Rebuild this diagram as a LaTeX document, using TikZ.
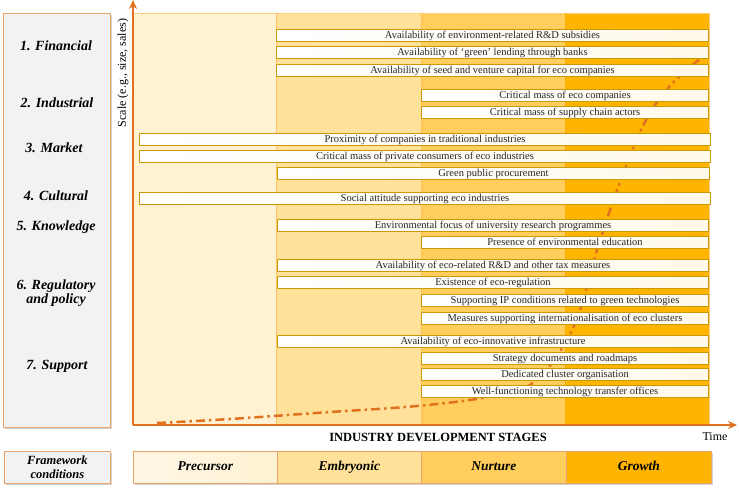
\documentclass[tikz,border=0pt]{standalone}
\usepackage{fontspec}
\setmainfont{Liberation Serif}
\usepackage{tikz}
\usetikzlibrary{arrows.meta,positioning,calc,shadows}
\definecolor{axisorange}{HTML}{E0711E}
\definecolor{precursor}{HTML}{FFF2D3}
\definecolor{embryonic}{HTML}{FFE19A}
\definecolor{nurture}{HTML}{FFCE5C}
\definecolor{growth}{HTML}{FFB400}
\definecolor{bargold}{HTML}{C99A06}
\definecolor{barfill}{HTML}{FFF9EA}
\definecolor{panelgray}{HTML}{F2F2F2}
\definecolor{panelline}{HTML}{E8A565}
\newcommand{\barfont}{\fontsize{10.5}{11}\selectfont}
\newcommand{\catfont}{\fontsize{14}{14}\selectfont\bfseries\itshape}

\begin{document}
\begin{tikzpicture}[x=1pt,y=-1pt,font=\small,
  ecobar/.style={draw=bargold, line width=1pt, left color=white, right color=barfill,
    anchor=north west, inner sep=0pt, minimum height=12pt, text height=7.2pt, text depth=2.2pt,
    text=black!85, font=\barfont},
  catlabel/.style={font=\catfont, align=center},
  stagebox/.style={draw=panelline, line width=0.8pt, drop shadow={opacity=0.35,shadow xshift=1.5pt,shadow yshift=-1.5pt},
    anchor=north west, minimum height=32pt, inner sep=0pt, text height=9.5pt, text depth=3pt,
    font=\fontsize{13.5}{14}\selectfont\bfseries\itshape}]
\useasboundingbox (0,0) rectangle (739,490);

% left panel with the seven categories
\node[draw=panelline, fill=panelgray, line width=0.8pt, drop shadow={opacity=0.35,shadow xshift=1.5pt,shadow yshift=-1.5pt},
  anchor=north west, minimum width=107pt, minimum height=414pt, inner sep=0pt] (panel) at (3,13) {};
\node[catlabel] (fin) at (56,46) {1. Financial};
\node[catlabel] (ind) at (57,103) {2. Industrial};
\node[catlabel] (mkt) at (54,148) {3. Market};
\node[catlabel] (cul) at (56,196) {4. Cultural};
\node[catlabel] (kno) at (56,227) {5. Knowledge};
\node[catlabel] (reg) at (56,293) {6. Regulatory\\and policy};
\node[catlabel] (sup) at (57,366) {7. Support};

% stage columns
\fill[precursor] (133,13) rectangle (276,425);
\fill[embryonic] (276,13) rectangle (421,425);
\fill[nurture] (421,13) rectangle (565,425);
\fill[growth] (565,13) rectangle (709,425);
\draw[embryonic!80!orange, line width=0.6pt] (133,13) -- (709,13) -- (709,425);
\draw[embryonic!70!orange, line width=0.4pt] (276,13) -- (276,425);
\draw[nurture!85!orange, line width=0.4pt] (421,13) -- (421,425);
\draw[growth!85!orange, line width=0.4pt] (565,13) -- (565,425);

% growth curve
\draw[axisorange, line width=2.5pt, dash pattern=on 9pt off 4pt on 2.5pt off 4pt]
  plot[smooth, tension=0.6] coordinates {(157,423) (230,419) (330,412) (417,406) (487,397)
  (534,382) (573,328) (597,250) (610,210) (640,132) (668,88) (705,55)};

% framework condition bars
\node[ecobar, minimum width=432pt] (b1) at (276,29) {Availability of environment-related R\&D subsidies};
\node[ecobar, minimum width=432pt] (b2) at (276,46) {Availability of ‘green’ lending through banks};
\node[ecobar, minimum width=432pt] (b3) at (276,64) {Availability of seed and venture capital for eco companies};
\node[ecobar, minimum width=287pt] (b4) at (421,89) {Critical mass of eco companies};
\node[ecobar, minimum width=287pt] (b5) at (421,106) {Critical mass of supply chain actors};
\node[ecobar, minimum width=571pt] (b6) at (139,133) {Proximity of companies in traditional industries};
\node[ecobar, minimum width=571pt] (b7) at (139,150) {Critical mass of private consumers of eco industries};
\node[ecobar, minimum width=432pt] (b8) at (277,167) {Green public procurement};
\node[ecobar, minimum width=571pt] (b9) at (139,192) {Social attitude supporting eco industries};
\node[ecobar, minimum width=431pt] (b10) at (277,219) {Environmental focus of university research programmes};
\node[ecobar, minimum width=287pt] (b11) at (421,236) {Presence of environmental education};
\node[ecobar, minimum width=431pt] (b12) at (277,259) {Availability of eco-related R\&D and other tax measures};
\node[ecobar, minimum width=431pt] (b13) at (277,276) {Existence of eco-regulation};
\node[ecobar, minimum width=287pt] (b14) at (421,294) {Supporting IP conditions related to green technologies};
\node[ecobar, minimum width=287pt] (b15) at (421,312) {Measures supporting internationalisation of eco clusters};
\node[ecobar, minimum width=431pt] (b16) at (277,335) {Availability of eco-innovative infrastructure};
\node[ecobar, minimum width=287pt] (b17) at (421,352) {Strategy documents and roadmaps};
\node[ecobar, minimum width=287pt] (b18) at (421,368) {Dedicated cluster organisation};
\node[ecobar, minimum width=287pt] (b19) at (421,385) {Well-functioning technology transfer offices};

% axes
\coordinate (origin) at (133,425);
\coordinate (ytip) at (133,0);
\coordinate (xtip) at (737,425);
\draw[axisorange, line width=2.2pt, -{Stealth[length=9pt,width=8pt]}] (origin) -- (ytip);
\draw[axisorange, line width=2.2pt, -{Stealth[length=9pt,width=8pt]}] (origin) -- (xtip);
\node[rotate=90, font=\fontsize{12}{12}\selectfont] (scale) at (123,73) {Scale (e.g., size, sales)};
\node[font=\fontsize{12.5}{13}\selectfont\bfseries] (stages) at (438,437) {INDUSTRY DEVELOPMENT STAGES};
\node[font=\fontsize{12}{12}\selectfont] (time) at (715,437) {Time};

% stage row
\node[stagebox, fill=panelgray, minimum width=106pt, align=center, text height=, text depth=,
  font=\fontsize{12.5}{14}\selectfont\bfseries\itshape] (frame) at (4,451) {Framework\\conditions};
\node[stagebox, left color=precursor!60!white, right color=precursor, minimum width=144pt] (pre) at (133,451) {Precursor};
\node[stagebox, fill=embryonic, minimum width=144pt] (emb) at (277,451) {Embryonic};
\node[stagebox, fill=nurture, minimum width=145pt] (nur) at (421,451) {Nurture};
\node[stagebox, fill=growth, minimum width=145pt] (gro) at (566,451) {Growth};
\end{tikzpicture}
\end{document}
